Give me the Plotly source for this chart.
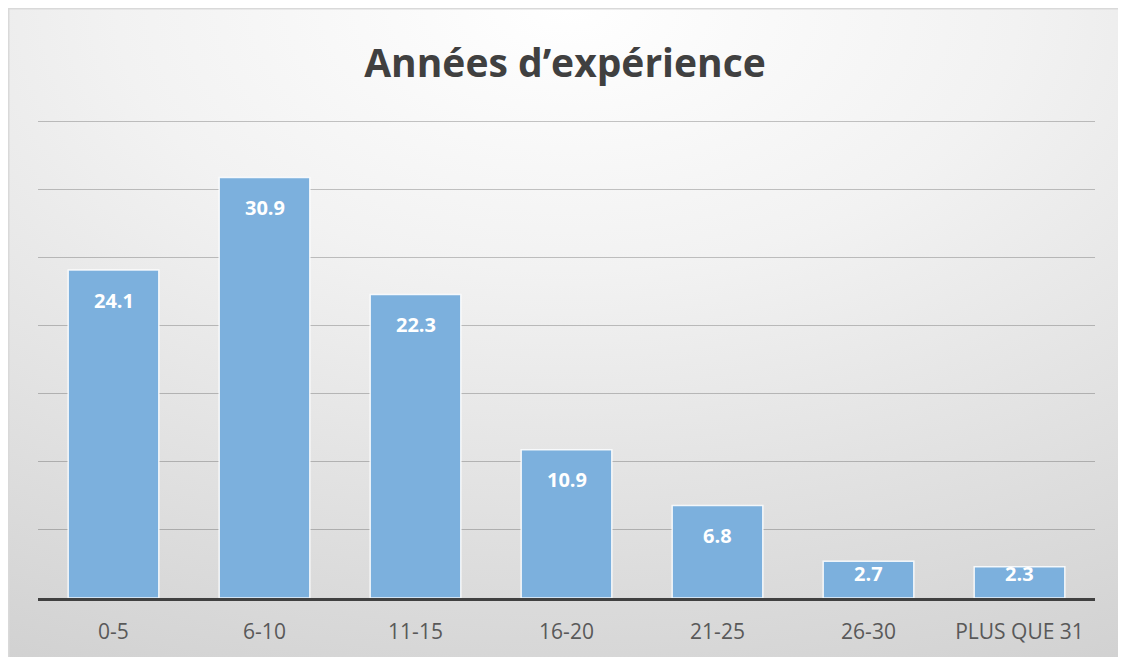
import base64
import plotly.graph_objects as go

categories = ["0-5", "6-10", "11-15", "16-20", "21-25", "26-30", "PLUS QUE 31"]
values = [24.1, 30.9, 22.3, 10.9, 6.8, 2.7, 2.3]
title_text = "Années d’expérience"

# page body has an 8px margin; figure sized to fit the window
OFF = 8
W, H = 1126 - OFF, 657 - OFF
y_max = 35.2
unit_px = 476 / 35
plot_w = 1057
plot_h = round(unit_px * y_max)
ML = 38 - OFF
MT = (598 - OFF) - plot_h
MR = W - ML - plot_w
MB = H - MT - plot_h

# background gradient as an SVG image covering the figure
IW, IH = W, H
svg = (
    f'<svg xmlns="http://www.w3.org/2000/svg" width="{IW}" height="{IH}" viewBox="0 0 {IW} {IH}">'
    '<defs><radialGradient id="g" cx="50%" cy="0%" r="115%" fx="50%" fy="0%">'
    '<stop offset="0%" stop-color="#ffffff"/>'
    '<stop offset="35%" stop-color="#f2f2f2"/>'
    '<stop offset="100%" stop-color="#d0d0d0"/>'
    '</radialGradient></defs>'
    f'<rect x="0" y="0" width="{IW}" height="{IH}" fill="url(#g)"/>'
    f'<line x1="0" y1="0.75" x2="{IW}" y2="0.75" stroke="#d9d9d9" stroke-width="1.5"/>'
    f'<line x1="0.75" y1="0" x2="0.75" y2="{IH}" stroke="#d9d9d9" stroke-width="1.5"/>'
    '</svg>'
)
svg_uri = "data:image/svg+xml;base64," + base64.b64encode(svg.encode("utf-8")).decode("ascii")

img_x = (0 - ML) / plot_w
img_y = (MT + plot_h) / plot_h
img_sx = IW / plot_w
img_sy = IH / plot_h

fig = go.Figure()
fig.add_trace(go.Bar(
    x=categories,
    y=values,
    marker=dict(color="#7cb0dd", line=dict(color="rgba(255,255,255,0.85)", width=1.5)),
    hoverinfo="x+y",
))

annotations = []
for c, v in zip(categories, values):
    bar_px = v * unit_px
    shift = -min(30, bar_px - 24)
    annotations.append(dict(
        x=c, y=v, xref="x", yref="y", text=f"{v:.1f}", showarrow=False,
        yshift=shift, yanchor="middle",
        font=dict(family="Open Sans", size=20, color="#ffffff", weight="bold"),
    ))

fig.update_layout(
    width=W, height=H,
    margin=dict(l=ML, r=MR, t=MT, b=MB, pad=0),
    paper_bgcolor="#ffffff",
    plot_bgcolor="rgba(0,0,0,0)",
    bargap=0.4,
    showlegend=False,
    title=dict(
        text=title_text, x=(565 - OFF) / W, xanchor="center",
        y=1 - (63 - OFF) / H, yanchor="middle", xref="container", yref="container",
        font=dict(family="Open Sans", size=39, color="#404040", weight="bold"),
    ),
    images=[dict(
        source=svg_uri, xref="paper", yref="paper",
        x=img_x, y=img_y, sizex=img_sx, sizey=img_sy,
        xanchor="left", yanchor="top", sizing="stretch", layer="below",
    )],
    annotations=annotations,
    xaxis=dict(
        showline=True, linecolor="#404040", linewidth=2.5,
        ticks="", tickfont=dict(family="Open Sans", size=21, color="#595959"),
        ticklabelstandoff=13, showgrid=False, zeroline=False,
    ),
    yaxis=dict(
        range=[0, y_max], tick0=0, dtick=5, showticklabels=False, showline=False,
        showgrid=True, gridcolor="rgba(0,0,0,0.22)", gridwidth=1,
        zeroline=False, fixedrange=True,
    ),
)

fig.write_html("out.html")
